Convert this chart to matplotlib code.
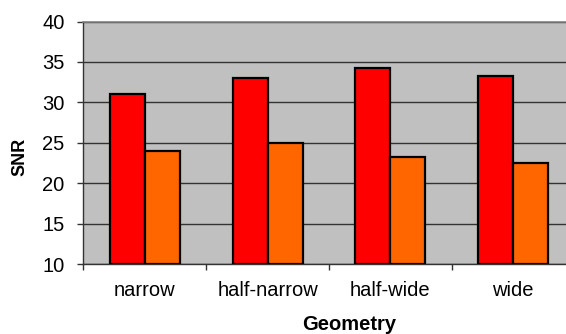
import matplotlib
matplotlib.use("Agg")
import matplotlib.pyplot as plt
import numpy as np

plt.rcParams['font.family'] = ['Liberation Sans', 'DejaVu Sans']

categories = ["narrow", "half-narrow", "half-wide", "wide"]
series_a = [31.1, 33.0, 34.3, 33.3]
series_b = [24.0, 25.0, 23.3, 22.5]
y_ticks = [10, 15, 20, 25, 30, 35, 40]

fig = plt.figure(figsize=(5.66, 3.34), dpi=100)
W, H = 566, 334
left, right, top, bottom = 83.3, 574.6, 21.5, 264.3
ax = fig.add_axes([left / W, 1 - bottom / H, (right - left) / W, (bottom - top) / H])
ax.set_facecolor("#C0C0C0")

x = np.arange(len(categories))
bw = 0.285
ax.bar(x - bw / 2, np.array(series_a) - 10, bw, bottom=10, color="#FF0000",
       edgecolor="black", linewidth=1.6, zorder=3)
ax.bar(x + bw / 2, np.array(series_b) - 10, bw, bottom=10, color="#FF6600",
       edgecolor="black", linewidth=1.6, zorder=3)

ax.set_xlim(-0.5, len(categories) - 0.5)
ax.set_ylim(10, 40)
ax.set_yticks(y_ticks)
ax.yaxis.grid(True, color="#333333", linewidth=1.0, zorder=1)
ax.set_axisbelow(True)

ax.set_xticks(np.arange(len(categories) + 1) - 0.5)
ax.set_xticklabels([])
ax.set_xticks(x, minor=True)
ax.set_xticklabels(categories, minor=True)
ax.tick_params(axis='x', which='minor', length=0, pad=12, labelsize=14.5)
ax.tick_params(axis='x', which='major', length=4.5, width=1, color="#333333")
ax.tick_params(axis='y', length=4.5, width=1, color="#333333", labelsize=14.5, pad=9)

for s in ["top", "right"]:
    ax.spines[s].set_color("#808080")
    ax.spines[s].set_linewidth(1.2)
for s in ["left", "bottom"]:
    ax.spines[s].set_color("#333333")
    ax.spines[s].set_linewidth(1.0)

fig.text(20 / W, 1 - 157 / H, "SNR", rotation=90, fontsize=13, fontweight="bold",
         ha="center", va="center")
fig.text(349 / W, 1 - 325 / H, "Geometry", fontsize=14.5, fontweight="bold",
         ha="center", va="center")

fig.savefig("out.png", dpi=100)
